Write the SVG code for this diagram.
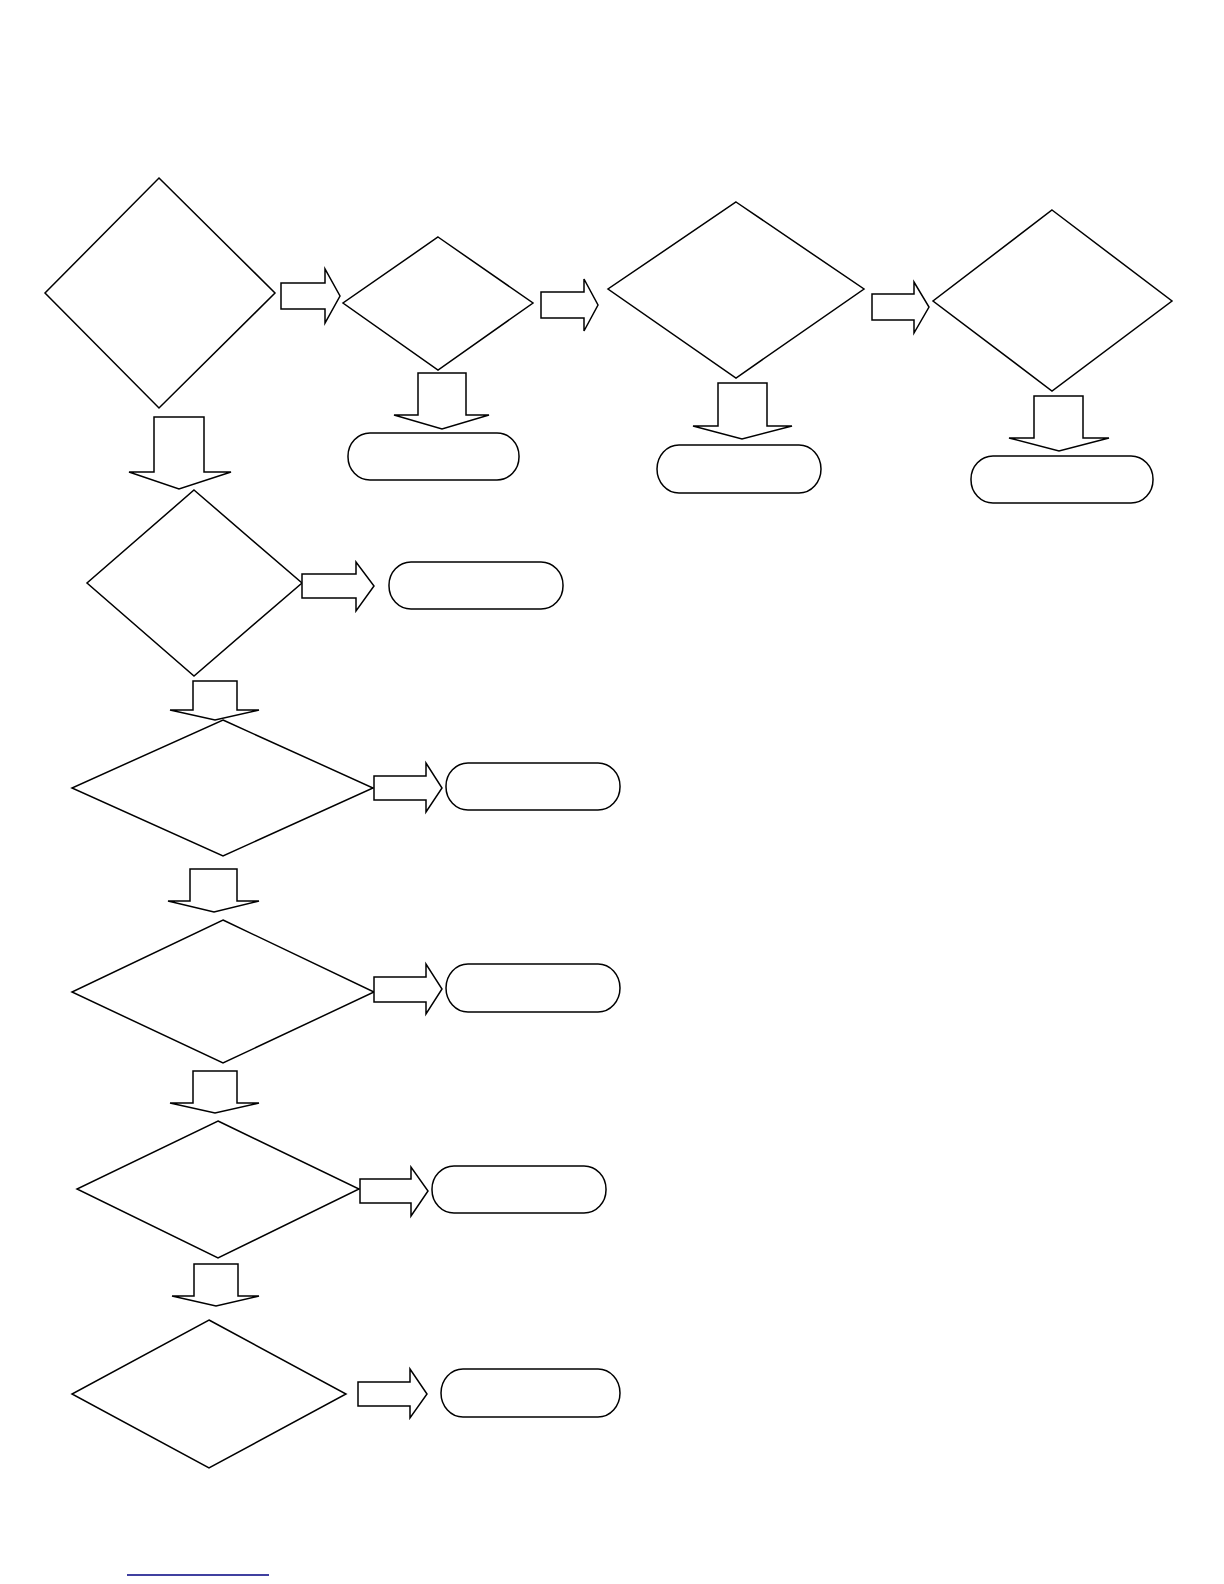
<svg xmlns="http://www.w3.org/2000/svg" width="1224" height="1584" viewBox="0 0 1224 1584">
<style>
.d{fill:#fff;stroke:#000;stroke-width:1.5;stroke-linejoin:miter}
.t{fill:#fff;stroke:#000;stroke-width:1.5}
.a{fill:#fff;stroke:#000;stroke-width:1.5;stroke-linejoin:miter}
</style>
<rect width="1224" height="1584" fill="#fff"/>
<g id="nodes">
<g id="d1"><polygon class="d" points="159,178 275,293 159,408 45,293"/></g>
<g id="d2"><polygon class="d" points="438,237 533,303 438,370 343,303"/></g>
<g id="d3"><polygon class="d" points="736,202 864,289 736,378 608,289"/></g>
<g id="d4"><polygon class="d" points="1052,210 1172,301 1052,391 933,301"/></g>
<g id="t2"><rect class="t" x="348" y="433" width="171" height="47" rx="22" ry="23"/></g>
<g id="t3"><rect class="t" x="657" y="445" width="164" height="48" rx="22" ry="24"/></g>
<g id="t4"><rect class="t" x="971" y="456" width="182" height="47" rx="22" ry="23"/></g>
<g id="d5"><polygon class="d" points="194,490 302,583 194,676 87,583"/></g>
<g id="t5"><rect class="t" x="389" y="562" width="174" height="47" rx="22" ry="23"/></g>
<g id="d6"><polygon class="d" points="223,720 373,788 223,856 72,788"/></g>
<g id="t6"><rect class="t" x="446" y="763" width="174" height="47" rx="22" ry="23"/></g>
<g id="d7"><polygon class="d" points="223,920 374,992 223,1063 72,992"/></g>
<g id="t7"><rect class="t" x="446" y="964" width="174" height="48" rx="22" ry="24"/></g>
<g id="d8"><polygon class="d" points="218,1121 359,1189 218,1258 77,1189"/></g>
<g id="t8"><rect class="t" x="432" y="1166" width="174" height="47" rx="22" ry="23"/></g>
<g id="d9"><polygon class="d" points="209,1320 346,1394 209,1468 72,1394"/></g>
<g id="t9"><rect class="t" x="441" y="1369" width="179" height="48" rx="22" ry="24"/></g>
</g>
<g id="connectors">
<polygon class="a" points="281,283 325,283 325,269 340,296 325,323 325,309 281,309"/>
<polygon class="a" points="541,292 584,292 584,279 598,305 584,331 584,318 541,318"/>
<polygon class="a" points="872,294 914,294 914,282 929,307 914,333 914,320 872,320"/>
<polygon class="a" points="154,417 204,417 204,472 231,472 179,489 129,472 154,472"/>
<polygon class="a" points="418,373 466,373 466,415 489,415 442,429 394,415 418,415"/>
<polygon class="a" points="718,383 767,383 767,426 792,426 742,439 693,426 718,426"/>
<polygon class="a" points="1034,396 1083,396 1083,438 1109,438 1059,451 1009,438 1034,438"/>
<polygon class="a" points="302,574 356,574 356,562 374,586 356,611 356,598 302,598"/>
<polygon class="a" points="193,681 237,681 237,710 259,710 215,720 170,710 193,710"/>
<polygon class="a" points="374,776 426,776 426,763 442,788 426,812 426,800 374,800"/>
<polygon class="a" points="190,869 237,869 237,901 259,901 214,912 168,901 190,901"/>
<polygon class="a" points="374,977 426,977 426,964 442,989 426,1014 426,1002 374,1002"/>
<polygon class="a" points="193,1071 237,1071 237,1103 259,1103 215,1113 170,1103 193,1103"/>
<polygon class="a" points="360,1179 411,1179 411,1167 428,1191 411,1216 411,1203 360,1203"/>
<polygon class="a" points="194,1264 238,1264 238,1296 259,1296 216,1306 172,1296 194,1296"/>
<polygon class="a" points="358,1382 410,1382 410,1369 427,1394 410,1418 410,1406 358,1406"/>
</g>
<line x1="127" y1="1575" x2="269" y2="1575" stroke="#000080" stroke-width="1.3"/>
</svg>
